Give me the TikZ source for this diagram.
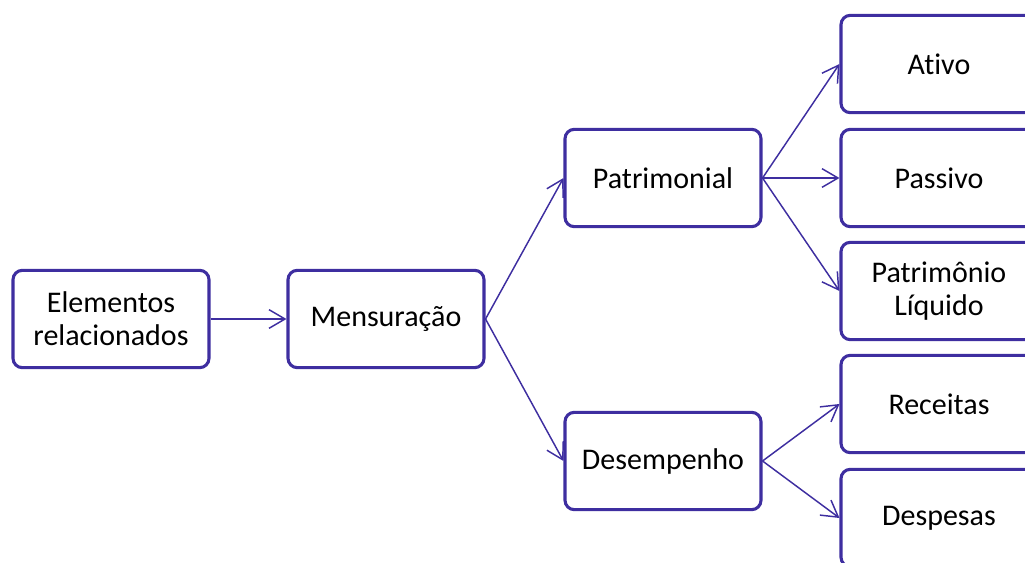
\documentclass[tikz,border=0pt]{standalone}
\usepackage{fontspec}
\setmainfont[Ligatures=NoCommon]{Carlito}
\usetikzlibrary{arrows.meta}
\definecolor{boxblue}{RGB}{62,46,160}

\begin{document}
\begin{tikzpicture}[x=0.75pt,y=-0.75pt,
    box/.style={draw=boxblue, line width=2.3pt, rounded corners=7pt, fill=white,
      minimum width=147pt, minimum height=73pt, align=center,
      font=\fontsize{22.5}{25}\selectfont, inner sep=2pt},
    link/.style={draw=boxblue, line width=1.1pt, -{Straight Barb[length=12pt,width=14pt,line width=1.1pt]}}]
    \useasboundingbox (0,0) rectangle (1025,563);
    \clip (0,0) rectangle (1025,563);

    \node[box] (elem) at (111,319) {Elementos\\relacionados};
    \node[box] (mens) at (386,319) {Mensuração};
    \node[box] (patr) at (663,178) {Patrimonial};
    \node[box] (dese) at (663,461) {Desempenho};

    % right column
    \foreach \name/\y/\txt in {ativo/64/Ativo, passivo/178/Passivo,
        pl/291/{Patrimônio\\Líquido}, receitas/404/Receitas, despesas/518/Despesas} {
      \node[box] (\name) at (939,\y) {\txt};
    }

    \draw[link] (elem) -- (mens);
    \draw[link] (mens.east) -- (patr.west);
    \draw[link] (mens.east) -- (dese.west);

    \foreach \t in {ativo,passivo,pl}
      \draw[link] (patr.east) -- (\t.west);
    \foreach \t in {receitas,despesas}
      \draw[link] (dese.east) -- (\t.west);

  \end{tikzpicture}
\end{document}
